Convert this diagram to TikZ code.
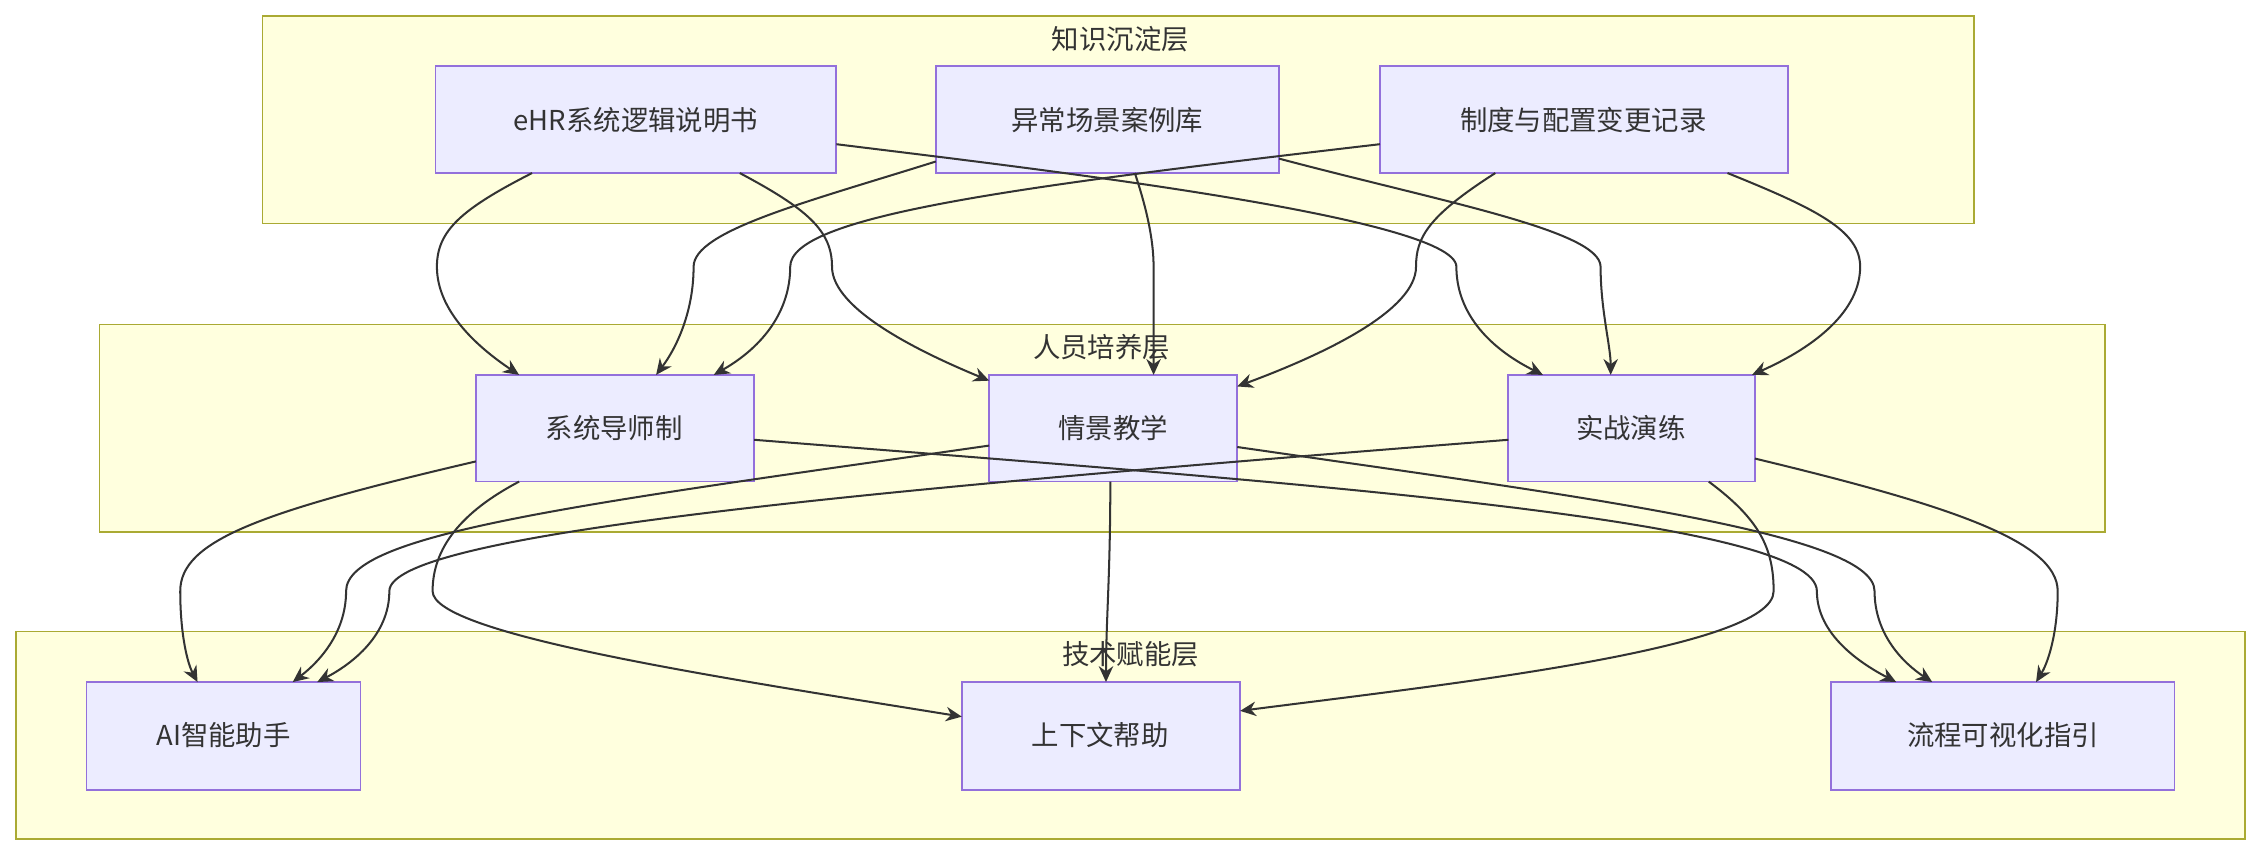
\documentclass[tikz,border=0pt]{standalone}
\usepackage{fontspec}
\setmainfont{Noto Sans CJK SC}
\usetikzlibrary{arrows.meta}
\definecolor{clf}{HTML}{FFFFDE}\definecolor{cld}{HTML}{AAAA33}
\definecolor{ndf}{HTML}{ECECFF}\definecolor{ndd}{HTML}{9370DB}
\definecolor{edg}{HTML}{333333}
\tikzset{
 clus/.style={draw=cld,fill=clf,line width=0.6pt},
 box/.style={draw=ndd,fill=ndf,line width=0.6pt},
 lbl/.style={font=\fontsize{9.5}{11}\selectfont,text=edg},
 edge/.style={draw=edg,line width=0.7pt,-{Stealth[length=5.5pt,width=5pt]}}
}
\begin{document}
\begin{tikzpicture}[x=0.5pt,y=-0.5pt]
\useasboundingbox (0,0) rectangle (1568,593);
% clusters
\draw[clus] (182,11) rectangle (1369,155);
\node[lbl] (c1) at (777,27) {知识沉淀层};
\draw[clus] (69,225) rectangle (1460,369);
\node[lbl] (c2) at (764,241) {人员培养层};
\draw[clus] (11,438) rectangle (1557,582);
\node[lbl] (c3) at (784,454) {技术赋能层};
% nodes
\draw[box] (302,46) rectangle (580,120); \node[lbl] (ehr) at (441,83) {eHR系统逻辑说明书};
\draw[box] (649,46) rectangle (887,120); \node[lbl] (yc) at (768,83) {异常场景案例库};
\draw[box] (957,46) rectangle (1240,120); \node[lbl] (zd) at (1098,83) {制度与配置变更记录};
\draw[box] (330,260) rectangle (523,334); \node[lbl] (ds) at (426,297) {系统导师制};
\draw[box] (686,260) rectangle (858,334); \node[lbl] (qj) at (772,297) {情景教学};
\draw[box] (1046,260) rectangle (1217,334); \node[lbl] (sz) at (1131,297) {实战演练};
\draw[box] (60,473) rectangle (250,548); \node[lbl] (ai) at (155,510) {AI智能助手};
\draw[box] (667,473) rectangle (860,548); \node[lbl] (sx) at (763,510) {上下文帮助};
\draw[box] (1270,473) rectangle (1508,548); \node[lbl] (lc) at (1389,510) {流程可视化指引};
% edges top
\draw[edge] (369,120) .. controls (320,145) and (303,160) .. (303,185) .. controls (303,215) and (330,240) .. (360,260);
\draw[edge] (513,120) .. controls (560,145) and (577,160) .. (577,185) .. controls (577,215) and (640,245) .. (686,264);
\draw[edge] (580,100) .. controls (700,115) and (1010,150) .. (1010,185) .. controls (1010,215) and (1030,240) .. (1070,260);
\draw[edge] (649,112) .. controls (560,140) and (481,160) .. (481,185) .. controls (481,215) and (470,240) .. (455,260);
\draw[edge] (787,120) .. controls (797,150) and (800,170) .. (800,185) .. controls (800,215) and (800,240) .. (800,260);
\draw[edge] (887,110) .. controls (1000,140) and (1110,160) .. (1110,185) .. controls (1110,215) and (1117,240) .. (1117,260);
\draw[edge] (957,100) .. controls (700,130) and (548,150) .. (548,185) .. controls (548,215) and (530,240) .. (495,260);
\draw[edge] (1037,120) .. controls (990,150) and (982,165) .. (982,185) .. controls (982,215) and (920,245) .. (858,268);
\draw[edge] (1198,120) .. controls (1260,145) and (1290,160) .. (1290,185) .. controls (1290,215) and (1260,240) .. (1215,260);
% edges bottom
\draw[edge] (330,320) .. controls (180,355) and (125,375) .. (125,410) .. controls (125,440) and (130,460) .. (137,473);
\draw[edge] (360,334) .. controls (320,355) and (300,380) .. (300,410) .. controls (300,440) and (500,470) .. (667,497);
\draw[edge] (523,305) .. controls (900,335) and (1260,360) .. (1260,410) .. controls (1260,440) and (1290,460) .. (1315,473);
\draw[edge] (686,309) .. controls (400,350) and (240,370) .. (240,410) .. controls (240,440) and (220,460) .. (203,473);
\draw[edge] (770,334) .. controls (770,400) and (767,430) .. (767,473);
\draw[edge] (858,310) .. controls (1100,345) and (1300,370) .. (1300,410) .. controls (1300,440) and (1320,460) .. (1340,473);
\draw[edge] (1046,305) .. controls (600,340) and (270,370) .. (270,410) .. controls (270,440) and (245,460) .. (220,473);
\draw[edge] (1185,334) .. controls (1220,360) and (1230,380) .. (1230,410) .. controls (1230,450) and (1000,475) .. (860,493);
\draw[edge] (1217,318) .. controls (1350,350) and (1427,375) .. (1427,410) .. controls (1427,440) and (1420,460) .. (1412,473);
\end{tikzpicture}
\end{document}
